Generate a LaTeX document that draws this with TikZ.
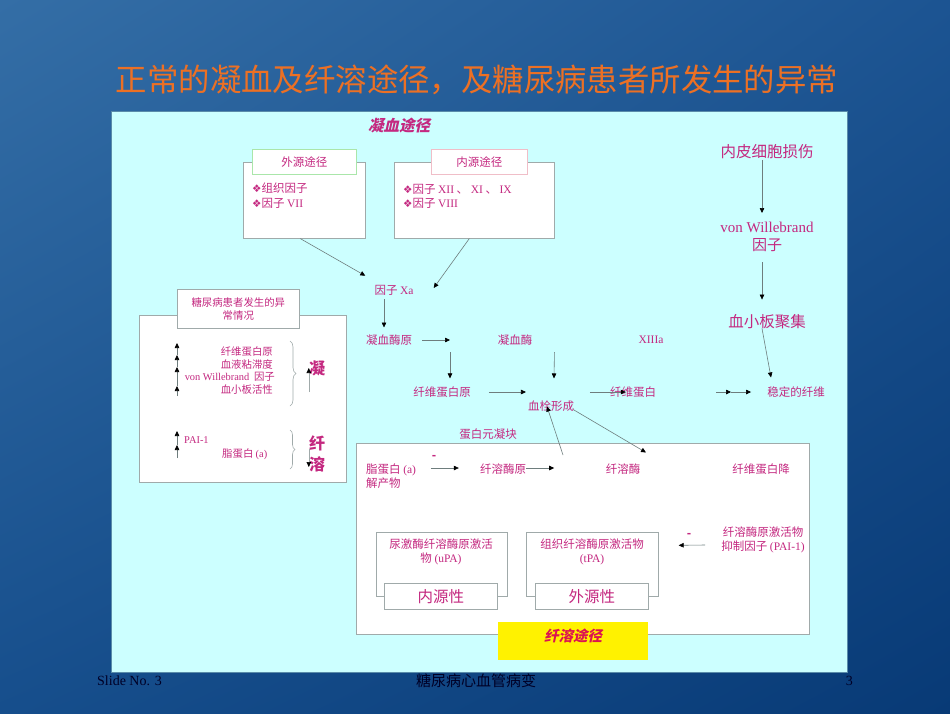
\documentclass[tikz,border=0pt]{standalone}
\usepackage{fontspec}
\setmainfont{Noto Sans CJK SC}
\newfontfamily\lat{Liberation Serif}
\newfontfamily\dvs{DejaVu Sans}
\newfontfamily\zhsl{Noto Sans CJK SC}[FakeSlant=0.22]
\usetikzlibrary{arrows.meta,decorations.pathreplacing,calc,shadings}
\definecolor{mag}{RGB}{196,40,128}
\definecolor{ttl}{RGB}{236,112,36}
\definecolor{panel}{RGB}{204,255,255}
\definecolor{pborder}{RGB}{90,140,170}
\definecolor{bgray}{RGB}{160,170,170}
\definecolor{lgray}{RGB}{110,125,125}
\definecolor{gborder}{RGB}{170,230,170}
\definecolor{pkborder}{RGB}{240,190,200}
\definecolor{bgul}{RGB}{52,110,166}
\definecolor{bgur}{RGB}{28,84,146}
\definecolor{bgll}{RGB}{22,78,140}
\definecolor{bglr}{RGB}{8,58,118}
\definecolor{fibred}{RGB}{220,20,80}
\newcommand\lt[1]{{\lat #1}}
\newcommand\dia{{\dvs\fontsize{10.5}{12}\selectfont ❖}}
\tikzset{
  t/.style={text=mag, inner sep=1pt, font=\fontsize{11.5}{14}\selectfont, align=center},
  ts/.style={text=mag, inner sep=1pt, font=\fontsize{10.4}{12.5}\selectfont, align=center},
  tb/.style={text=mag, inner sep=1pt, font=\fontsize{15.5}{18}\selectfont, align=center},
  box/.style={draw=bgray, fill=white, line width=0.6pt},
  arr/.style={draw=lgray, line width=0.6pt, -{Triangle[length=5pt,width=4.5pt,color=black]}},
}
\begin{document}
\begin{tikzpicture}[x=1pt,y=-1pt]
\useasboundingbox (0,0) rectangle (950,713);
\shade[upper left=bgul, upper right=bgur, lower left=bgll, lower right=bglr] (0,0) rectangle (950,713);

% title
\node[text=ttl, font=\fontsize{31.4}{34}\selectfont, inner sep=0] (title) at (477,80) {正常的凝血及纤溶途径，及糖尿病患者所发生的异常};

% main panel
\node[draw=pborder, fill=panel, line width=0.8pt, minimum width=736, minimum height=561, anchor=north west, inner sep=0] (panel) at (111,111) {};

\node[text=mag, font=\zhsl\bfseries\fontsize{15.5}{18}\selectfont, inner sep=0] (coag) at (399,126) {凝血途径};

% extrinsic / intrinsic boxes
\node[box, minimum width=122, minimum height=76, anchor=north west, inner sep=0] (ext) at (243,162) {};
\node[box, draw=gborder, minimum width=104, minimum height=25, anchor=north west, inner sep=0, t] (exth) at (252,149) {外源途径};
\node[t, anchor=west] (ext1) at (251,188) {\dia 组织因子};
\node[t, anchor=west] (ext2) at (251,203) {\dia 因子 \lt{VII}};

\node[box, minimum width=160, minimum height=76, anchor=north west, inner sep=0] (int) at (394,162) {};
\node[box, draw=pkborder, minimum width=96, minimum height=25, anchor=north west, inner sep=0, t] (inth) at (431,149) {内源途径};
\node[t, anchor=west] (int1) at (402,189) {\dia 因子 \lt{XII} 、 \lt{XI} 、 \lt{IX}};
\node[t, anchor=west] (int2) at (402,203) {\dia 因子 \lt{VIII}};

% coagulation cascade
\node[t] (xa) at (394,290) {因子 \lt{Xa}};
\node[t] (pro) at (389,340) {凝血酶原};
\node[t] (thr) at (515,340) {凝血酶};
\node[t] (f13) at (651,340) {\lt{XIIIa}};
\node[t] (fgn) at (442,392) {纤维蛋白原};
\node[t] (fib) at (633,392) {纤维蛋白};
\node[t] (stab) at (796,392) {稳定的纤维};
\node[t] (thb) at (551,406) {血栓形成};
\node[t] (clot) at (488,434) {蛋白元凝块};

% right column
\node[tb] (endo) at (767,152) {内皮细胞损伤};
\node[tb, font=\fontsize{15}{18}\selectfont] (vwf) at (767,237) {\lt{von Willebrand}\\因子};
\node[tb] (plt) at (767,322) {血小板聚集};

% fibrinolysis box
\node[box, minimum width=453, minimum height=191, anchor=north west, inner sep=0] (fbox) at (356,443) {};
\node[t, anchor=west, align=left] (lpa) at (365,476) {脂蛋白 \lt{(a)}\\解产物};
\node[t, font=\bfseries\fontsize{11.5}{14}\selectfont] (m1) at (434,457) {-};
\node[t] (plg) at (503,469) {纤溶酶原};
\node[t] (pln) at (623,469) {纤溶酶};
\node[t] (fdp) at (761,469) {纤维蛋白降};

\node[box, minimum width=131, minimum height=64, anchor=north west, inner sep=0] (upa) at (376,532) {};
\node[t] (upat) at (441,552) {尿激酶纤溶酶原激活\\物 \lt{(uPA)}};
\node[box, minimum width=113, minimum height=26, anchor=north west, inner sep=0, tb] (endog) at (384,583) {内源性};

\node[box, minimum width=132, minimum height=64, anchor=north west, inner sep=0] (tpa) at (526,532) {};
\node[t] (tpat) at (592,552) {组织纤溶酶原激活物\\\lt{(tPA)}};
\node[box, minimum width=113, minimum height=26, anchor=north west, inner sep=0, tb] (exog) at (535,583) {外源性};

\node[t, font=\bfseries\fontsize{11.5}{14}\selectfont] (m2) at (689,535) {-};
\node[t] (pai) at (763,540) {纤溶酶原激活物\\抑制因子 \lt{(PAI-1)}};

\node[fill=yellow, minimum width=150, minimum height=38, anchor=north west, inner sep=0] (fpath) at (498,622) {};
\node[text=fibred, font=\zhsl\bfseries\fontsize{14.5}{17}\selectfont, inner sep=0] (fpatht) at (573,636) {纤溶途径};

% left panel
\node[box, minimum width=207, minimum height=167, anchor=north west, inner sep=0] (lbox) at (139,315) {};
\node[box, minimum width=122, minimum height=39, anchor=north west, inner sep=0, ts] (lhead) at (177,289) {糖尿病患者发生的异\\常情况};
\node[ts, anchor=east] (l1) at (274,352) {纤维蛋白原};
\node[ts, anchor=east] (l2) at (274,364.5) {血液粘滞度};
\node[ts, anchor=east] (l3) at (276,377) {\lt{von Willebrand}\ \ 因子};
\node[ts, anchor=east] (l4) at (274,389.5) {血小板活性};
\node[ts, anchor=west] (l5) at (183,440) {\lt{PAI-1}};
\node[ts, anchor=west] (l6) at (221,454) {脂蛋白 \lt{(a)}};
\node[text=mag, font=\bfseries\fontsize{16}{18}\selectfont, inner sep=0] (ning) at (317,368) {凝};
\node[text=mag, font=\bfseries\fontsize{16}{18}\selectfont, inner sep=0] (xian) at (317,443) {纤};
\node[text=mag, font=\bfseries\fontsize{16}{18}\selectfont, inner sep=0] (rong) at (317,464) {溶};

\draw[bgray, line width=0.6pt, decorate, decoration={brace, amplitude=6pt}] (290,341) -- (290,406);
\draw[bgray, line width=0.6pt, decorate, decoration={brace, amplitude=5pt}] (290,430) -- (290,469);

\draw[arr] (177,396) -- (177,386);
\draw[arr] (177,386) -- (177,367);
\draw[arr] (177,367) -- (177,355);
\draw[arr] (177,355) -- (177,343);
\draw[arr] (177,458) -- (177,445);
\draw[arr] (177,445) -- (177,431);
\draw[arr, draw=bgray] ($(ning.west)+(0,24)$) -- (ning.west);
\draw[arr, draw=bgray] ($(rong.west)+(0,-15)$) -- ($(rong.west)+(0,3)$);

% connectors
\draw[arr] ($(ext.south)+(-4,0)$) -- ($(xa.north west)+(-8,-8)$);
\draw[arr] ($(int.south)+(-5,0)$) -- ($(xa.east)+(19,-2)$);
\draw[arr] ($(xa.south)+(-10,3)$) -- ($(pro.north)+(-5,-6)$);
\coordinate (j1) at (450,340);
\draw[arr] ($(pro.east)+(9,0)$) -- (j1);
\draw[arr] ($(j1)+(0,12)$) -- ($(fgn.north)+(8,-7)$);
\draw[arr] ($(thr.east)+(21,12)$) -- ($(thb.north)+(3,-21)$);
\draw[arr] ($(fgn.east)+(17,0)$) -- ($(fgn.east)+(54,0)$);
\draw[arr] ($(fib.west)+(-19,0)$) -- ($(fib.west)+(17,0)$);
\draw[arr] ($(fib.east)+(59,0)$) -- ($(stab.west)+(-35,0)$);
\draw[arr] ($(stab.west)+(-35,0)$) -- ($(stab.west)+(-15,0)$);
\draw[arr] ($(plt.south)+(-5,-2)$) -- ($(stab.north)+(-25,-8)$);
\draw[arr] ($(endo.south)+(-5,0)$) -- ($(vwf.north)+(-5,-8)$);
\draw[arr] ($(vwf.south)+(-5,9)$) -- ($(plt.north)+(-5,-14)$);
\draw[arr] ($(fbox.north west)+(207,12)$) -- ($(thb.south)+(-4,-6)$);
\draw[arr] ($(thb.south east)+(-2,-3)$) -- ($(pln.north)+(23,-10)$);
\draw[arr] ($(plg.west)+(-48,-1)$) -- ($(plg.west)+(-20,-1)$);
\draw[arr] ($(plg.east)+(-1,-1)$) -- ($(plg.east)+(27,-1)$);
\draw[arr] ($(pai.west)+(-15,5)$) -- ($(tpa.east)+(20,-19)$);

% footer
\node[text=black!85!blue, font=\lat\fontsize{14}{16}\selectfont, anchor=west, inner sep=0] (sno) at (97,681) {Slide No. 3};
\node[text=black!85!blue, font=\fontsize{15}{17}\selectfont, inner sep=0] (ftitle) at (476,681) {糖尿病心血管病变};
\node[text=black!85!blue, font=\lat\fontsize{14}{16}\selectfont, anchor=east, inner sep=0] (pnum) at (853,681) {3};
\end{tikzpicture}
\end{document}
